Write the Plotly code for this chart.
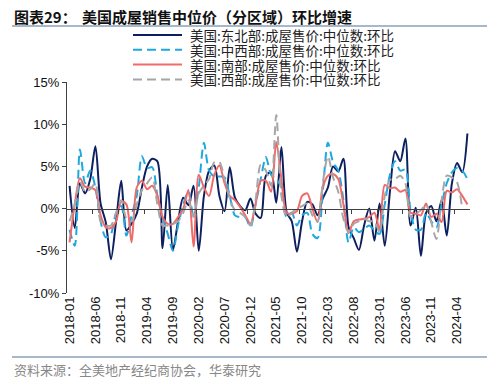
import plotly.graph_objects as go
import pandas as pd

months = pd.date_range("2018-01-01", "2024-06-01", freq="MS").strftime("%Y-%m").tolist()

northeast = [2.7, -2.3, 3.0, 1.8, 3.5, 7.4, 0.6, -1.6, -6.0, -1.5,
             3.3, -2.6, -1.8, -0.6, 2.5, 5.0, 5.9, 5.6, -4.7, 2.8,
             -4.9, -1.5, 1.3, 0.4, 2.7, -5.0, 1.5, 4.5, 5.1, 1.5,
             -0.3, 4.9, 1.3, 0.3, -0.2, 1.2, -0.6, -1.1, 3.9, 4.3,
             0.7, 7.3, -0.4, -1.5, -5.1, -1.5, 0.8, 0.5, -0.8, 1.2,
             2.5, 5.0, 4.4, 5.9, -2.2, -3.5, -4.9, -2.0, 0.0, -3.8,
             0.6, -4.4, 2.0, 6.8, 5.6, 8.3, -2.0, 0.1, -5.6, -0.5,
             0.3, -1.5, 1.0, -3.2, 3.0, 5.4, 4.3, 8.9]
midwest = [-2.5, -4.4, 7.0, 3.0, 4.5, 2.5, -1.5, -3.4, -3.0, -0.5,
           0.3, -3.2, -0.8, 1.5, 6.2, 4.8, 4.9, 1.5, -1.0, -3.0,
           -5.0, -2.0, 0.5, 2.0, -1.0, 2.5, 7.8, 4.5, 3.8, 3.8,
           3.7, 1.5, -0.8, -1.0, -1.0, -2.2, 0.5, 3.5, 6.1, 4.0,
           3.5, 2.5, -1.0, -0.5, -2.0, -0.8, -0.5, -3.0, -3.5, 2.0,
           7.8, 5.5, 4.5, 1.0, -4.0, -2.2, -2.8, -2.4, -2.0, -2.6,
           -3.0, 0.5, 4.0, 5.6, 4.5, 4.6, -0.3, -2.5, -2.5, -0.5,
           -1.5, -2.2, 0.5, 3.0, 4.3, 4.8, 4.5, 3.5]
south = [-4.0, 0.5, 3.6, 2.6, 2.5, 2.2, -0.8, -2.2, -2.3, -1.5,
         0.9, 0.5, -4.0, 2.5, 3.3, 2.3, 2.7, 1.5, -1.0, -1.8,
         -1.8, -1.0, 0.0, 2.2, -4.5, 4.0, 2.5, 1.5, 4.0, 5.1,
         3.0, 1.5, 1.0, 0.2, -0.8, -1.8, 0.5, 3.3, 3.3, 2.0,
         7.9, 3.5, -0.5, -0.6, -0.3, 1.5, 1.8, 0.0, -1.6, 2.5,
         3.9, 4.1, 3.5, 0.5, -2.9, -1.5, -1.3, -1.2, -1.0, -0.5,
         -2.5, 2.8, 2.4, 2.5, 2.0, 2.2, -0.5, -0.6, -0.8, 0.6,
         -1.0, -0.6, -1.6, 2.1, 1.9, 2.3, 1.5, 0.5]
west = [-1.5, 0.5, 3.2, 2.0, 2.3, 3.0, -1.5, -2.0, -2.0, -0.5,
        1.0, -1.2, -1.5, 0.5, 2.2, 3.0, 3.7, 0.5, -2.0, -2.0,
        -1.8, -1.5, -0.5, 1.0, -1.0, 1.8, 2.7, 3.5, 5.5, 5.5,
        3.5, 1.2, -0.2, -0.5, -1.0, -2.0, 1.0, 5.2, 4.5, 2.7,
        11.1, 1.5, -1.0, -0.5, 0.0, 0.3, 0.6, -0.8, -1.5, 3.0,
        6.2, 3.7, 2.0, -1.2, -2.8, -1.8, -1.5, -1.2, -1.5, -1.5,
        -2.8, 1.5, 3.4, 3.5, 3.9, 3.0, -1.0, -0.6, -0.2, 0.5,
        -1.6, -3.6, 1.0, 3.9, 3.7, 3.1, 0.0, None]

series_names = ["美国:东北部:成屋售价:中位数:环比",
                "美国:中西部:成屋售价:中位数:环比",
                "美国:南部:成屋售价:中位数:环比",
                "美国:西部:成屋售价:中位数:环比"]
y_ticks = [-10, -5, 0, 5, 10, 15]
y_ticktext = ["-10%", "-5%", "0%", "5%", "10%", "15%"]
tick_step = 5

colors = ["#0c1f5e", "#1fa8e0", "#f06a6a", "#a6a6a6"]
dashes = ["solid", "9px,5px", "solid", "9px,5px"]

x_idx = list(range(len(months)))
fig = go.Figure()
for name, vals, c, d in zip(series_names, [northeast, midwest, south, west], colors, dashes):
    fig.add_trace(go.Scatter(x=x_idx, y=vals, name=name, mode="lines",
                             line=dict(color=c, width=2, dash=d, shape="spline", smoothing=0.8),
                             connectgaps=False, showlegend=False))

tv = x_idx[::tick_step]
fig.update_layout(
    width=499, height=382,
    margin=dict(l=67, r=29, t=82, b=89),
    paper_bgcolor="white", plot_bgcolor="white",
    showlegend=False,
    xaxis=dict(range=[-0.5, len(months) - 0.5], tickmode="array", tickvals=tv,
               ticktext=[months[i] for i in tv], tickangle=-90, showline=False,
               showgrid=False, zeroline=False, ticks="", automargin=False,
               tickfont=dict(family="Liberation Sans", size=13, color="#111")),
    xaxis2=dict(overlaying="x", matches="x", anchor="free", position=0.4,
                showline=True, linecolor="#404040", linewidth=1,
                ticks="outside", ticklen=4, tickcolor="#404040",
                tickmode="array", tickvals=[v + 4.5 for v in tv],
                showticklabels=False, showgrid=False, zeroline=False, automargin=False,
                range=[-0.5, len(months) - 0.5]),
    yaxis=dict(range=[-10, 15], tickmode="array", tickvals=y_ticks, ticktext=y_ticktext,
               showline=True, linecolor="#404040", linewidth=1,
               ticks="outside", ticklen=4, tickcolor="#404040",
               showgrid=False, zeroline=False, automargin=False,
               tickfont=dict(family="Liberation Sans", size=13, color="#111")),
)
# invisible trace to anchor xaxis2
fig.add_trace(go.Scatter(x=[0], y=[None], xaxis="x2", showlegend=False, hoverinfo="skip"))

L, W, B, H = 67, 403, 293, 211
def px(x): return (x - L) / W
def py(y): return (B - y) / H

# legend (drawn as line samples + labels)
leg_rows = [35, 49.8, 64.6, 79.4]
for name, c, d, yy in zip(series_names, colors, dashes, leg_rows):
    fig.add_shape(type="line", xref="paper", yref="paper", x0=px(133), x1=px(182),
                  y0=py(yy), y1=py(yy), line=dict(color=c, width=2, dash=d))
    fig.add_annotation(text=name, x=px(188), y=py(yy), xref="paper", yref="paper",
                       xanchor="left", yanchor="middle", showarrow=False,
                       font=dict(family="Noto Sans CJK SC", size=13.5, color="#222"))

fig.add_annotation(text="<b>图表29：</b>", x=px(12), y=py(16), xref="paper", yref="paper",
                   xanchor="left", yanchor="middle", showarrow=False,
                   font=dict(family="Noto Sans CJK SC", size=15, color="#111"))
fig.add_annotation(text="<b>美国成屋销售中位价（分区域）环比增速</b>", x=px(80), y=py(16),
                   xref="paper", yref="paper", xanchor="left", yanchor="middle", showarrow=False,
                   font=dict(family="Noto Sans CJK SC", size=15, color="#111"))
fig.add_shape(type="line", xref="paper", yref="paper", x0=px(12), x1=px(487), y0=py(26), y1=py(26),
              line=dict(color="#8aa0b8", width=1.5))
fig.add_shape(type="line", xref="paper", yref="paper", x0=px(12), x1=px(487), y0=py(357), y1=py(357),
              line=dict(color="#8aa0b8", width=1.5))
fig.add_annotation(text="资料来源：全美地产经纪商协会，华泰研究", x=px(12), y=py(369),
                   xref="paper", yref="paper", xanchor="left", yanchor="middle", showarrow=False,
                   font=dict(family="Noto Sans CJK SC", size=13, color="#888"))

fig.write_html("out.html", config={"displayModeBar": False},
               post_script="document.body.style.margin='0';")
